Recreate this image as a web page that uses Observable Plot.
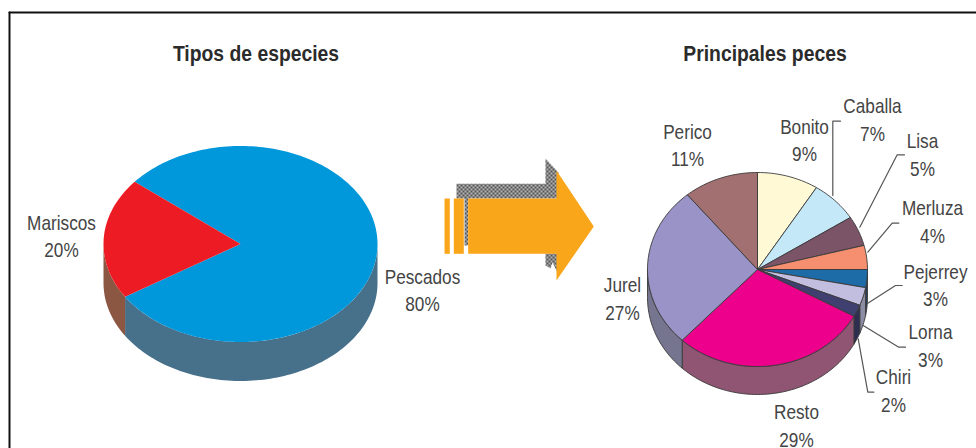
<!DOCTYPE html>
<html>
<head>
<meta charset="utf-8">
<script src="https://cdn.jsdelivr.net/npm/d3@7"></script>
<script src="https://cdn.jsdelivr.net/npm/@observablehq/plot@0.6"></script>
<style>
  html, body { margin: 0; background: #fff; }
  svg { display: block; }
</style>
</head>
<body>
<div id="chart"></div>
<script>
// Catch composition by kind of species
const speciesNames = ["Pescados", "Mariscos"];
const speciesShares = [80, 20];
const speciesTop = ["#0097DB", "#ED1C24"];
const speciesSide = ["#47708B", "#8B5743"];

// Main fish within the catch, clockwise from twelve o'clock
const fishNames = ["Bonito", "Caballa", "Lisa", "Merluza", "Pejerrey", "Lorna", "Chiri", "Resto", "Jurel", "Perico"];
const fishShares = [9, 7, 5, 4, 3, 3, 2, 29, 27, 11];
const fishTop = ["#FFFAD5", "#C5E8F9", "#7B5468", "#F58F6F", "#1D6CA8", "#C2BEE0", "#3F3F70", "#EC008C", "#9A93C7", "#A27070"];
const fishSide = ["#B8B49A", "#8FA8B4", "#5A3D4C", "#B06850", "#22405C", "#8C8CA4", "#2E2E50", "#8F5573", "#75758F", "#755050"];

// Tilted discs: centre, radii and wall height in the page's pixel space
const speciesDisc = {cx: 240, cy: 243.5, rx: 137, ry: 98, depth: 39, start: -50.6};
const fishDisc = {cx: 757, cy: 269, rx: 110, ry: 97, depth: 28, start: 0};

const DEG = Math.PI / 180;
const onEllipse = (disc, deg, dy = 0) => ({
  x: disc.cx + disc.rx * Math.sin(deg * DEG),
  y: disc.cy - disc.ry * Math.cos(deg * DEG) + dy
});
const arcPoints = (disc, a, b, dy = 0) => {
  const n = Math.max(2, Math.ceil(Math.abs(b - a) / 1.5));
  return d3.range(n + 1).map(i => onEllipse(disc, a + (b - a) * i / n, dy));
};

// Turns shares into one closed outline per wedge, plus the visible wall below it
function discOutlines(disc, names, shares) {
  const total = d3.sum(shares);
  const tops = [], walls = [];
  let angle = disc.start;
  names.forEach((name, i) => {
    const end = angle + shares[i] / total * 360;
    const wedge = [{x: disc.cx, y: disc.cy}, ...arcPoints(disc, angle, end), {x: disc.cx, y: disc.cy}];
    wedge.forEach(p => tops.push({...p, key: name}));
    // The wall shows only on the near half, 90 to 270 degrees clockwise from the top
    const a = Math.max(angle, 90), b = Math.min(end, 270);
    if (a < b) {
      const outline = [...arcPoints(disc, a, b), ...arcPoints(disc, b, a, disc.depth)];
      outline.push(outline[0]);
      outline.forEach(p => walls.push({...p, key: name + " lado"}));
    }
    angle = end;
  });
  return {tops, walls};
}

const species = discOutlines(speciesDisc, speciesNames, speciesShares);
const fish = discOutlines(fishDisc, fishNames, fishShares);

const colorDomain = [
  ...speciesNames, ...speciesNames.map(n => n + " lado"),
  ...fishNames, ...fishNames.map(n => n + " lado")
];
const colorRange = [...speciesTop, ...speciesSide, ...fishTop, ...fishSide];

// Text placement
const fmtLabel = (name, share) => `${name}\n${share}%`;
const labelSpots = {
  Pescados: [422, 288], Mariscos: [61, 234],
  Perico: [687, 143], Bonito: [804, 138], Caballa: [872, 117.5], Lisa: [922, 152.5],
  Merluza: [932, 219.5], Pejerrey: [935, 283], Lorna: [930, 343.5], Chiri: [893, 388.5],
  Resto: [796, 423.5], Jurel: [622, 296.5]
};
const labelRows = [
  ...speciesNames.map((n, i) => ({text: fmtLabel(n, speciesShares[i]), at: labelSpots[n]})),
  ...fishNames.map((n, i) => ({text: fmtLabel(n, fishShares[i]), at: labelSpots[n]}))
];
const headings = [
  {text: "Tipos de especies", x: 255.5, y: 53},
  {text: "Principales peces", x: 764.5, y: 53}
];

// Leader lines from small wedges to their labels
const leaders = [
  {key: "Caballa", pts: [[832.3, 195], [832.3, 120.7], [840, 120.7]]},
  {key: "Lisa", pts: [[859.3, 226.7], [896.7, 154.3], [904, 154.3]]},
  {key: "Merluza", pts: [[867.3, 251.7], [891.7, 222.7], [898.3, 222.7]]},
  {key: "Pejerrey", pts: [[867.3, 302.7], [895, 285], [901.7, 285]]},
  {key: "Lorna", pts: [[862.7, 325], [898.3, 346.7], [905, 346.7]]},
  {key: "Chiri", pts: [[857.7, 338.3], [867.3, 391.7], [873.3, 391.7]]}
].flatMap(l => l.pts.map(([x, y]) => ({x, y, key: l.key})));

// Block arrow between the two discs and its screened offset shadow
const outline = (key, pts) => [...pts, pts[0]].map(([x, y]) => ({x, y, key}));
const arrowShadow = [
  ...outline("upper", [[456, 183.3], [545, 183.3], [545, 158], [558, 172], [558, 198], [467.7, 198], [467.7, 245], [464, 245], [464, 198], [456, 198]]),
  ...outline("lower", [[545, 253], [557, 253], [557, 272], [552, 262], [550, 268], [545, 265]])
];
const arrowBody = [
  ...outline("shaft", [[467.7, 198], [556, 198], [556, 170], [593.3, 226], [556, 280], [556, 253.3], [467.7, 253.3]]),
  ...outline("bar1", [[444, 198], [449.3, 198], [449.3, 253.3], [444, 253.3]]),
  ...outline("bar2", [[453.3, 198], [463.3, 198], [463.3, 253.3], [453.3, 253.3]])
];

const frame = [{x: 9, y: 12}, {x: 976, y: 12}];
const frameLeft = [{x: 9, y: 12}, {x: 9, y: 448}];

const checker = () => {
  const defs = d3.create("svg:defs");
  const p = defs.append("pattern").attr("id", "screen").attr("patternUnits", "userSpaceOnUse")
    .attr("width", 4).attr("height", 4);
  p.append("rect").attr("width", 4).attr("height", 4).attr("fill", "#b4b4b4");
  p.append("rect").attr("width", 2).attr("height", 2).attr("fill", "#555");
  p.append("rect").attr("x", 2).attr("y", 2).attr("width", 2).attr("height", 2).attr("fill", "#555");
  return defs.node();
};

const chart = Plot.plot({
  width: 976,
  height: 448,
  margin: 0,
  x: {domain: [0, 976], range: [0, 976], axis: null},
  y: {domain: [0, 448], range: [0, 448], axis: null},
  color: {type: "ordinal", domain: colorDomain, range: colorRange},
  marks: [
    checker,
    Plot.line(frame, {x: "x", y: "y", stroke: "#111", strokeWidth: 2}),
    Plot.line(frameLeft, {x: "x", y: "y", stroke: "#111", strokeWidth: 2}),

    Plot.line(species.walls, {x: "x", y: "y", z: "key", fill: "key", stroke: "none"}),
    Plot.line(species.tops, {x: "x", y: "y", z: "key", fill: "key", stroke: "none"}),

    Plot.line(arrowShadow, {x: "x", y: "y", z: "key", fill: "url(#screen)", stroke: "none"}),
    Plot.line(arrowBody, {x: "x", y: "y", z: "key", fill: "#FAA61A", stroke: "none"}),

    Plot.line(fish.walls, {x: "x", y: "y", z: "key", fill: "key", stroke: "#3a3a3a", strokeWidth: 0.9}),
    Plot.line(fish.tops, {x: "x", y: "y", z: "key", fill: "key", stroke: "#3a3a3a", strokeWidth: 0.9}),

    Plot.line(leaders, {x: "x", y: "y", z: "key", stroke: "#555", strokeWidth: 1.2}),

    Plot.text(labelRows, {
      x: d => d.at[0], y: d => d.at[1], text: "text",
      fontFamily: "Liberation Sans", fontSize: 20, lineHeight: 1.38, fill: "#444", lineAnchor: "middle"
    }),
    Plot.text(headings, {
      x: "x", y: "y", text: "text",
      fontFamily: "Liberation Sans", fontSize: 22.5, fontWeight: "bold", fill: "#2b2b2b", lineAnchor: "middle"
    })
  ]
});

// The typeface is set slightly condensed
chart.querySelectorAll("text").forEach(t => {
  const tf = t.getAttribute("transform");
  if (tf) t.setAttribute("transform", `${tf} scale(0.86,1)`);
});

document.getElementById("chart").append(chart);
</script>
</body>
</html>
